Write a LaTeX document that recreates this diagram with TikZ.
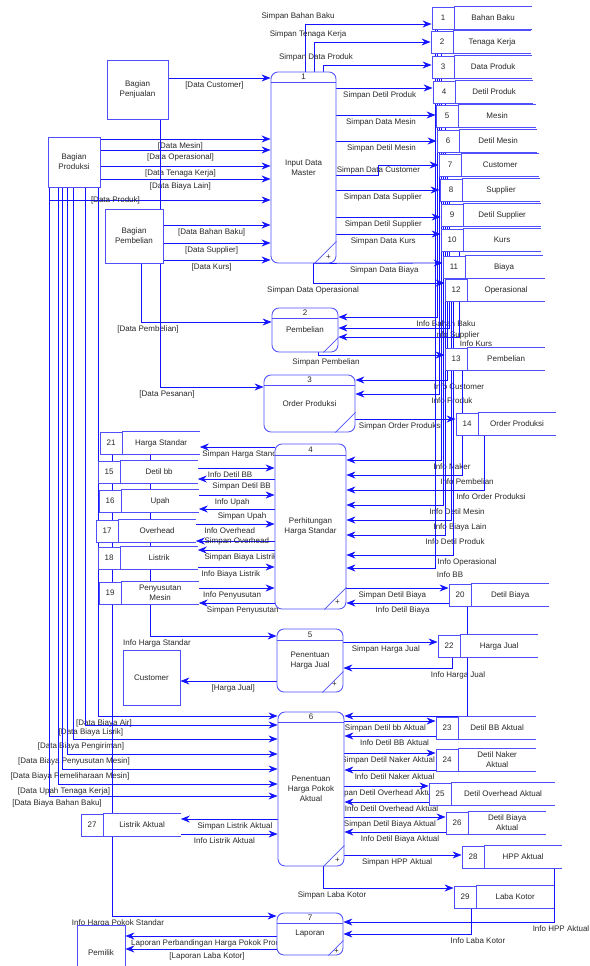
\documentclass[tikz,border=0pt]{standalone}
\usepackage{fontspec}
\setmainfont{Liberation Sans}
\usetikzlibrary{arrows.meta,positioning,backgrounds}
\definecolor{flowblue}{RGB}{20,20,255}
\definecolor{boxblue}{RGB}{80,80,250}
\definecolor{txtgray}{RGB}{40,40,40}
\begin{document}
\begin{tikzpicture}[auto, x=1pt, y=-1pt, font=\fontsize{8}{10}\selectfont, text=txtgray,
  flow/.style={draw=flowblue, line width=0.8pt, -{Stealth[length=9pt,width=7pt,inset=3pt]}},
  boxln/.style={draw=boxblue, line width=0.85pt},
  proc/.style={boxln, fill=white, rounded corners=7pt, inner sep=0pt, align=center},
  ext/.style={boxln, fill=white, inner sep=0pt, align=center},
  snum/.style={boxln, fill=white, minimum width=22pt, minimum height=22pt, inner sep=0pt},
  sname/.style={fill=white, minimum width=77pt, minimum height=22pt, inner sep=0pt, align=center,
    append after command={(\tikzlastnode.north west) edge[boxln] (\tikzlastnode.north east)
      (\tikzlastnode.south west) edge[boxln] (\tikzlastnode.south east)}}]
\useasboundingbox (0,0) rectangle (589,966);

\node[ext, minimum width=61pt, minimum height=59pt] (penjualan) at (137.5,89.5) {Bagian\\Penjualan};
\node[ext, minimum width=52pt, minimum height=50pt] (produksi) at (74,162) {Bagian\\Produksi};
\node[ext, minimum width=58pt, minimum height=54pt] (pembelian) at (134,236) {Bagian\\Pembelian};
\node[ext, minimum width=57pt, minimum height=55pt] (customer) at (151.5,677.5) {Customer};
\node[ext, minimum width=48pt, minimum height=56pt] (pemilik) at (101,953) {Pemilik};

\node[proc, minimum width=65pt, minimum height=191pt] (p1) at (303.5,167.5) {Input Data\\Master};
\node[proc, minimum width=66pt, minimum height=44pt] (p2) at (305,330) {Pembelian};
\node[proc, minimum width=91pt, minimum height=57pt] (p3) at (309.5,403.5) {Order Produksi};
\node[proc, minimum width=71pt, minimum height=165pt] (p4) at (310.5,526.5) {Perhitungan\\Harga Standar};
\node[proc, minimum width=66pt, minimum height=63pt] (p5) at (310,660.5) {Penentuan\\Harga Jual};
\node[proc, minimum width=66pt, minimum height=154pt] (p6) at (311,789) {Penentuan\\Harga Pokok\\Aktual};
\node[proc, minimum width=66pt, minimum height=42pt] (p7) at (310,934) {Laporan};

\draw[boxln] ([yshift=-11pt]p1.north west) -- ([yshift=-11pt]p1.north east);
\draw[boxln] ([yshift=-11pt]p2.north west) -- ([yshift=-11pt]p2.north east);
\draw[boxln] ([yshift=-11pt]p3.north west) -- ([yshift=-11pt]p3.north east);
\draw[boxln] ([yshift=-12pt]p4.north west) -- ([yshift=-12pt]p4.north east);
\draw[boxln] ([yshift=-12pt]p5.north west) -- ([yshift=-12pt]p5.north east);
\draw[boxln] ([yshift=-11pt]p6.north west) -- ([yshift=-11pt]p6.north east);
\draw[boxln] ([yshift=-11pt]p7.north west) -- ([yshift=-11pt]p7.north east);
\node (n1) at ([yshift=-5.5pt]p1.north) {1};
\node (n2) at ([yshift=-5.5pt]p2.north) {2};
\node (n3) at ([yshift=-5.5pt]p3.north) {3};
\node (n4) at ([yshift=-6pt]p4.north) {4};
\node (n5) at ([yshift=-6pt]p5.north) {5};
\node (n6) at ([yshift=-5.5pt]p6.north) {6};
\node (n7) at ([yshift=-5.5pt]p7.north) {7};
\draw[boxln] ([xshift=-22pt]p1.south east) -- ([yshift=22pt]p1.south east);
\draw[boxln] ([xshift=-15pt]p2.south east) -- ([yshift=15pt]p2.south east);
\draw[boxln] ([xshift=-20pt]p3.south east) -- ([yshift=20pt]p3.south east);
\draw[boxln] ([xshift=-22pt]p4.south east) -- ([yshift=22pt]p4.south east);
\draw[boxln] ([xshift=-21pt]p5.south east) -- ([yshift=21pt]p5.south east);
\draw[boxln] ([xshift=-21pt]p6.south east) -- ([yshift=21pt]p6.south east);
\draw[boxln] ([xshift=-15pt]p7.south east) -- ([yshift=15pt]p7.south east);
\node (plus1) at ([xshift=-8pt,yshift=6pt]p1.south east) {+};
\node (plus4) at ([xshift=-9pt,yshift=7pt]p4.south east) {+};
\node (plus5) at ([xshift=-9pt,yshift=8pt]p5.south east) {+};
\node (plus6) at ([xshift=-7pt,yshift=6pt]p6.south east) {+};
\node (plus7) at ([xshift=-7pt,yshift=4pt]p7.south east) {+};

\node[snum] (s1) at (443,18) {1};
\node[sname, right=0pt of s1] (s1n) {Bahan Baku};
\node[snum] (s2) at (442,42) {2};
\node[sname, right=0pt of s2] (s2n) {Tenaga Kerja};
\node[snum] (s3) at (443,67) {3};
\node[sname, right=0pt of s3] (s3n) {Data Produk};
\node[snum] (s4) at (444,92) {4};
\node[sname, right=0pt of s4] (s4n) {Detil Produk};
\node[snum] (s5) at (447,116) {5};
\node[sname, right=0pt of s5] (s5n) {Mesin};
\node[snum] (s6) at (448,141) {6};
\node[sname, right=0pt of s6] (s6n) {Detil Mesin};
\node[snum] (s7) at (450,165) {7};
\node[sname, right=0pt of s7] (s7n) {Customer};
\node[snum] (s8) at (451,190) {8};
\node[sname, right=0pt of s8] (s8n) {Supplier};
\node[snum] (s9) at (452,215) {9};
\node[sname, right=0pt of s9] (s9n) {Detil Supplier};
\node[snum] (s10) at (452,240) {10};
\node[sname, right=0pt of s10] (s10n) {Kurs};
\node[snum] (s11) at (454,267) {11};
\node[sname, right=0pt of s11] (s11n) {Biaya};
\node[snum] (s12) at (456,290) {12};
\node[sname, right=0pt of s12] (s12n) {Operasional};
\node[snum] (s13) at (456,359) {13};
\node[sname, right=0pt of s13] (s13n) {Pembelian};
\node[snum] (s14) at (467,424) {14};
\node[sname, right=0pt of s14] (s14n) {Order Produksi};
\node[snum] (s20) at (460,595) {20};
\node[sname, right=0pt of s20] (s20n) {Detil Biaya};
\node[snum] (s22) at (449,646) {22};
\node[sname, right=0pt of s22] (s22n) {Harga Jual};
\node[snum] (s23) at (447,728) {23};
\node[sname, right=0pt of s23] (s23n) {Detil BB Aktual};
\node[snum] (s24) at (447,760) {24};
\node[sname, right=0pt of s24] (s24n) {Detil Naker\\Aktual};
\node[snum] (s25) at (440,794) {25};
\node[sname, right=0pt of s25, minimum width=103pt] (s25n) {Detil Overhead Aktual};
\node[snum] (s26) at (457,823) {26};
\node[sname, right=0pt of s26] (s26n) {Detil Biaya\\Aktual};
\node[snum] (s28) at (473,857) {28};
\node[sname, right=0pt of s28] (s28n) {HPP Aktual};
\node[snum] (s29) at (465,897) {29};
\node[sname, right=0pt of s29] (s29n) {Laba Kotor};
\node[snum] (s21) at (111,443) {21};
\node[sname, right=0pt of s21] (s21n) {Harga Standar};
\node[snum] (s15) at (109,472) {15};
\node[sname, right=0pt of s15] (s15n) {Detil bb};
\node[snum] (s16) at (110,501) {16};
\node[sname, right=0pt of s16] (s16n) {Upah};
\node[snum] (s17) at (107,531) {17};
\node[sname, right=0pt of s17] (s17n) {Overhead};
\node[snum] (s18) at (109,558) {18};
\node[sname, right=0pt of s18] (s18n) {Listrik};
\node[snum] (s19) at (110,593) {19};
\node[sname, right=0pt of s19] (s19n) {Penyusutan\\Mesin};
\node[snum] (s27) at (92,825) {27};
\node[sname, right=0pt of s27] (s27n) {Listrik Aktual};

\begin{pgfonlayer}{background}
\draw[flow] (penjualan.east |- 0,78) to node[swap, pos=0.45] {[Data Customer]} (p1.west |- 0,78);
\draw[flow] (produksi.east |- 0,139) to node[swap, pos=0.47] {[Data Mesin]} (p1.west |- 0,139);
\draw[flow] (produksi.east |- 0,150) to node[swap, pos=0.47] {[Data Operasional]} (p1.west |- 0,150);
\draw[flow] (produksi.east |- 0,166) to node[swap, pos=0.47] {[Data Tenaga Kerja]} (p1.west |- 0,166);
\draw[flow] (produksi.east |- 0,179) to node[swap, pos=0.47] {[Data Biaya Lain]} (p1.west |- 0,179);
\draw[flow] (produksi.south -| 49,0) |- node[pos=0.65, anchor=center] {[Data Produk]} (p1.west |- 0,200);
\draw[flow] (pembelian.east |- 0,225) to node[swap, pos=0.45] {[Data Bahan Baku]} (p1.west |- 0,225);
\draw[flow] (pembelian.east |- 0,243) to node[swap, pos=0.45] {[Data Supplier]} (p1.west |- 0,243);
\draw[flow] (pembelian.east |- 0,260) to node[swap, pos=0.45] {[Data Kurs]} (p1.west |- 0,260);
\draw[flow] (pembelian.south -| 141,0) |- node[pos=0.5, below, xshift=7pt] {[Data Pembelian]} (p2.west |- 0,322);
\draw[flow] (penjualan.south -| 160,0) |- node[pos=0.5, below, xshift=7pt] {[Data Pesanan]} (p3.west |- 0,387);

\draw[flow] (p1.north -| 305,0) |- node[pos=0.5, above, xshift=-7pt] {Simpan Bahan Baku} (s1.west |- 0,24);
\draw[flow] (p1.north -| 314,0) |- node[pos=0.5, above, xshift=-6pt] {Simpan Tenaga Kerja} (s2.west |- 0,42);
\draw[flow] (p1.north -| 323,0) |- node[pos=0.5, above, xshift=-7pt] {Simpan Data Produk} (s3.west |- 0,65);
\draw[flow] (p1.east |- 0,88) to node[swap, pos=0.45] {Simpan Detil Produk} (s4.west |- 0,88);
\draw[flow] (p1.east |- 0,115) to node[swap, pos=0.45] {Simpan Data Mesin} (s5.west |- 0,115);
\draw[flow] (p1.east |- 0,141) to node[swap, pos=0.45] {Simpan Detil Mesin} (s6.west |- 0,141);
\draw[flow] (p1.east |- 0,175) -- ++(42,0) |- node[pos=0.25, anchor=center] {Simpan Data Customer} (s7.west |- 0,165);
\draw[flow] (p1.east |- 0,190) to node[swap, pos=0.45] {Simpan Data Supplier} (s8.west |- 0,190);
\draw[flow] (p1.east |- 0,217) to node[swap, pos=0.45] {Simpan Detil Supplier} (s9.west |- 0,217);
\draw[flow] (p1.east |- 0,234) to node[swap, pos=0.45] {Simpan Data Kurs} (s10.west |- 0,234);
\draw[flow] (p1.south -| 313,0) to node[swap, pos=0.55] {Simpan Data Biaya} (s11.west |- 0,263);
\draw[flow] (p1.south -| 313,0) |- node[pos=0.5, below] {Simpan Data Operasional} (s12.west |- 0,283);

\draw[flow] (s1.south -| 437,0) |- node[pos=0.5, below, xshift=9pt] {Info Bahan Baku} (p2.east |- 0,317);
\draw[flow] (s8.south -| 449,0) |- node[pos=0.5, below, xshift=8pt] {Info Supplier} (p2.east |- 0,328);
\draw[flow] (s10.south -| 459,0) |- node[pos=0.5, below, xshift=17pt] {Info Kurs} (p2.east |- 0,337);
\draw[flow] (p2.south -| 318,0) |- node[pos=0.5, below, xshift=8pt] {Simpan Pembelian} (s13.west |- 0,355);

\draw[flow] (s7.south -| 447,0) |- node[pos=0.5, below, xshift=12pt] {Info Customer} (p3.east |- 0,380);
\draw[flow] (s3.south -| 439,0) |- node[pos=0.5, below, xshift=13pt] {Info Produk} (p3.east |- 0,394);
\draw[flow] (p3.east |- 0,419) to node[swap, pos=0.45] {Simpan Order Produksi} (s14.west |- 0,419);

\draw[flow] (s2.south -| 441,0) |- node[pos=0.5, below, xshift=11pt] {Info Naker} (p4.east |- 0,460);
\draw[flow] (s13.south -| 462,0) |- node[pos=0.5, below, xshift=5pt] {Info Pembelian} (p4.east |- 0,475);
\draw[flow] (s14n.south -| 484,0) |- node[pos=0.5, below, xshift=7pt] {Info Order Produksi} (p4.east |- 0,490);
\draw[flow] (s6.south -| 443,0) |- node[pos=0.5, below, xshift=14pt] {Info Detil Mesin} (p4.east |- 0,505);
\draw[flow] (s11.south -| 451,0) |- node[pos=0.5, below, xshift=9pt] {Info Biaya Lain} (p4.east |- 0,520);
\draw[flow] (s4.south -| 445,0) |- node[pos=0.5, below, xshift=10pt] {Info Detil Produk} (p4.east |- 0,535);
\draw[flow] (s12.south -| 453,0) |- node[pos=0.5, below, xshift=14pt] {Info Operasional} (p4.east |- 0,555);
\draw[flow] (s1.south -| 435,0) |- node[pos=0.5, below, xshift=15pt] {Info BB} (p4.east |- 0,568);
\draw[flow] (p4.east |- 0,588) to node[swap, pos=0.45] {Simpan Detil Biaya} (s20.west |- 0,588);
\draw[flow] (s20.west |- 0,603) to node[pos=0.45] {Info Detil Biaya} (p4.east |- 0,603);

\draw[flow] (p4.west |- 0,447) to node[pos=0.42] {Simpan Harga Standar} (s21n.east |- 0,447);
\draw[flow] (s15n.east |- 0,468) to node[swap, pos=0.42] {Info Detil BB} (p4.west |- 0,468);
\draw[flow] (p4.west |- 0,479) to node[pos=0.43] {Simpan Detil BB} (s15n.east |- 0,479);
\draw[flow] (s16n.east |- 0,495) to node[swap, pos=0.44] {Info Upah} (p4.west |- 0,495);
\draw[flow] (p4.west |- 0,509) to node[pos=0.43] {Simpan Upah} (s16n.east |- 0,509);
\draw[flow] (s17n.east |- 0,524) to node[swap, pos=0.43] {Info Overhead} (p4.west |- 0,524);
\draw[flow] (p4.west |- 0,541) to node[pos=0.48, anchor=center] {Simpan Overhead} (s17n.east |- 0,541);
\draw[flow] (p4.west |- 0,550) to node[pos=0.44] {Simpan Biaya Listrik} (s18n.east |- 0,550);
\draw[flow] (s18n.east |- 0,567) to node[swap, pos=0.43] {Info Biaya Listrik} (p4.west |- 0,567);
\draw[flow] (s19n.east |- 0,588) to node[swap, pos=0.44] {Info Penyusutan} (p4.west |- 0,588);
\draw[flow] (p4.west |- 0,603) to node[pos=0.42] {Simpan Penyusutan} (s19n.east |- 0,603);

\draw[flow] (s21n.south -| 150,0) |- node[pos=0.5, below, xshift=7pt] {Info Harga Standar} (p5.west |- 0,636);
\draw[flow] (p5.east |- 0,642) to node[swap, pos=0.45] {Simpan Harga Jual} (s22.west |- 0,642);
\draw[flow] (s22.south -| 452,0) |- node[pos=0.5, below, xshift=6pt] {Info Harga Jual} (p5.east |- 0,668);
\draw[flow] (p5.west |- 0,681) to node[pos=0.45] {[Harga Jual]} (customer.east |- 0,681);

\draw[flow] (s20.south -| 467,0) |- (p6.east |- 0,716);
\draw[flow] (produksi.south -| 98,0) |- node[pos=0.5, below, xshift=6pt] {[Data Biaya Air]} (p6.west |- 0,716);
\draw[flow] (produksi.south -| 85,0) |- node[pos=0.5, below, xshift=6pt] {[Data Biaya Lisrik]} (p6.west |- 0,725);
\draw[flow] (produksi.south -| 73,0) |- node[pos=0.5, below, xshift=8pt] {[Data Biaya Pengiriman]} (p6.west |- 0,739);
\draw[flow] (produksi.south -| 67,0) |- node[pos=0.5, below, xshift=7pt] {[Data Biaya Penyusutan Mesin]} (p6.west |- 0,754);
\draw[flow] (produksi.south -| 62,0) |- node[pos=0.5, below, xshift=8pt] {[Data Biaya Pemeliharaan Mesin]} (p6.west |- 0,769);
\draw[flow] (produksi.south -| 58,0) |- node[pos=0.5, below, xshift=6pt] {[Data Upah Tenaga Kerja]} (p6.west |- 0,784);
\draw[flow] (produksi.south -| 49,0) |- node[pos=0.5, below, xshift=8pt] {[Data Biaya Bahan Baku]} (p6.west |- 0,796);
\draw[flow] (p6.east |- 0,721) to node[swap, pos=0.45] {Simpan Detil bb Aktual} (s23.west |- 0,721);
\draw[flow] (s23.west |- 0,736) to node[pos=0.45] {Info Detil BB Aktual} (p6.east |- 0,736);
\draw[flow] (p6.east |- 0,753) to node[swap, pos=0.48] {Simpan Detil Naker Aktual} (s24.west |- 0,753);
\draw[flow] (s24.west |- 0,770) to node[pos=0.45] {Info Detil Naker Aktual} (p6.east |- 0,770);
\draw[flow] (p6.east |- 0,786) to node[swap, pos=0.47] {Simpan Detil Overhead Aktual} (s25.west |- 0,786);
\draw[flow] (s25.west |- 0,802) to node[pos=0.44] {Info Detil Overhead Aktual} (p6.east |- 0,802);
\draw[flow] (p6.east |- 0,817) to node[swap, pos=0.45] {Simpan Detil Biaya Aktual} (s26.west |- 0,817);
\draw[flow] (s26.west |- 0,832) to node[pos=0.45] {Info Detil Biaya Aktual} (p6.east |- 0,832);
\draw[flow] (p6.east |- 0,855) to node[swap, pos=0.45] {Simpan HPP Aktual} (s28.west |- 0,855);
\draw[flow] (p6.south -| 323,0) |- node[pos=0.5, below, xshift=9pt] {Simpan Laba Kotor} (s29.west |- 0,888);
\draw[flow] (p6.west |- 0,819) to node[pos=0.44] {Simpan Listrik Aktual} (s27n.east |- 0,819);
\draw[flow] (s27n.east |- 0,834) to node[swap, pos=0.45] {Info Listrik Aktual} (p6.west |- 0,834);

\draw[flow] (s21.south -| 112,0) |- node[pos=0.5, below, xshift=6pt] {Info Harga Pokok Standar} (p7.west |- 0,916);
\draw[flow] (p7.west |- 0,936) to node[pos=1, anchor=north west, xshift=2pt] {Laporan Perbandingan Harga Pokok Produksi} (pemilik.east |- 0,936);
\draw[flow] (p7.west |- 0,949) to node[pos=0.46] {[Laporan Laba Kotor]} (pemilik.east |- 0,949);
\draw[flow] (s28n.south -| 554,0) |- node[pos=0.5, below, xshift=7pt] {Info HPP Aktual} (p7.east |- 0,922);
\draw[flow] (s29.south -| 471,0) |- node[pos=0.5, below, xshift=7pt] {Info Laba Kotor} (p7.east |- 0,934);
\end{pgfonlayer}
\end{tikzpicture}
\end{document}
